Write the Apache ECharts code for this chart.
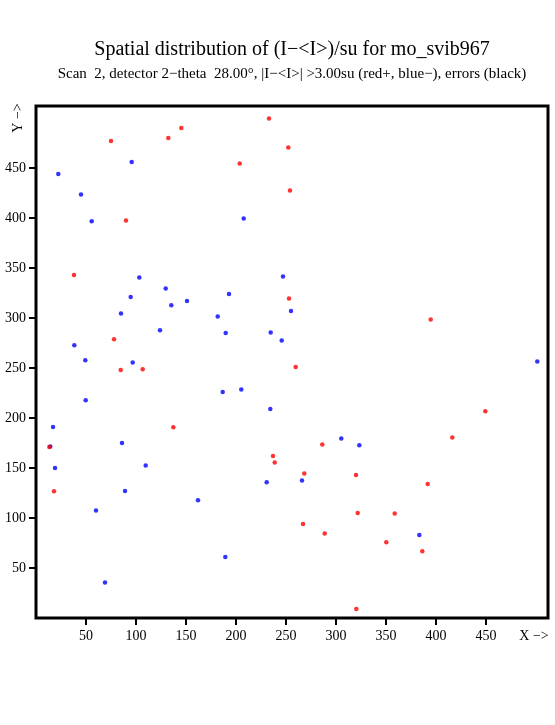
<!DOCTYPE html>
<html>
<head>
<meta charset="utf-8">
<script src="https://cdn.jsdelivr.net/npm/echarts@6/dist/echarts.min.js"></script>
<style>
html,body{margin:0;padding:0;background:#fff;}
#chart{width:555px;height:725px;}
</style>
</head>
<body>
<div id="chart"></div>
<script>
var titleText = "Spatial distribution of (I\u2212<I>)/su for mo_svib967";
var subtitleText = "Scan  2, detector 2\u2212theta  28.00\u00b0, |I\u2212<I>| >3.00su (red+, blue\u2212), errors (black)";
var xTicks = [50,100,150,200,250,300,350,400,450];
var yTicks = [50,100,150,200,250,300,350,400,450];

var redX = [75,90,132.3,145.3,38,78,84.7,106.7,137.3,13.3,18,233,252.3,203.7,254,253,259.7,286.3,237,238.7,268.3,320,321.7,267,288.7,320.3,394.7,449.3,416.3,391.7,358.7,350.3,386.3];
var redY = [477,397.4,480,490,343,278.7,248,248.7,190.7,171,126.7,499.4,470.4,454.4,427.4,319.4,251,173.4,162,155.4,144.4,143,105,94,84.4,9,298.4,206.7,180.4,134,104.4,75.7,66.7];

var blueX = [22.3,45,55.7,95.7,103.3,129.7,94.7,85,135.3,151,124,38.3,49.3,96.7,49.7,17,86,19,109.7,89,60,162,14.3,69,207.7,247,193,255,181.7,189.7,234.7,245.7,186.7,205.3,234.3,305.3,323.3,230.7,266,189.3,501.3,383.3];
var blueY = [444,423.4,396.7,456,340.4,329.4,321,304.4,312.7,317,287.7,272.7,257.7,255.4,217.7,191,175,150,152.4,127,107.4,117.7,171.5,35.4,399.4,341.4,324,307,301.4,285,285.4,277.4,226,228.4,209,179.4,172.7,135.7,137.4,61,256.4,83];

function pairs(xs, ys){ return xs.map(function(x,i){ return [x, ys[i]]; }); }

var FONT = "Liberation Serif";
var chart = echarts.init(document.getElementById('chart'), null, {renderer:'canvas'});
chart.setOption({
  animation:false,
  backgroundColor:'#fff',
  grid:{left:36,right:7,top:106,bottom:107,show:true,borderColor:'#000',borderWidth:3,backgroundColor:'transparent'},
  xAxis:{type:'value',min:0,max:512,
    axisLine:{show:false},
    splitLine:{show:false},
    axisTick:{show:true,inside:false,length:7,customValues:xTicks,lineStyle:{color:'#000',width:2}},
    axisLabel:{show:true,customValues:xTicks,margin:11,color:'#000',fontFamily:FONT,fontSize:14}
  },
  yAxis:{type:'value',min:0,max:512,
    axisLine:{show:false},
    splitLine:{show:false},
    axisTick:{show:true,inside:false,length:7,customValues:yTicks,lineStyle:{color:'#000',width:2}},
    axisLabel:{show:true,customValues:yTicks,margin:10,color:'#000',fontFamily:FONT,fontSize:14}
  },
  series:[
    {type:'scatter',data:pairs(blueX,blueY),symbol:'circle',symbolSize:4.5,itemStyle:{color:'#0000ff'},silent:true},
    {type:'scatter',data:pairs(redX,redY),symbol:'circle',symbolSize:4.5,itemStyle:{color:'#ff0000'},silent:true}
  ],
  graphic:[
    {type:'text',x:292,y:50,style:{text:titleText,font:'20px "'+FONT+'"',fill:'#000',textAlign:'center',textVerticalAlign:'middle'}},
    {type:'text',x:292,y:74,style:{text:subtitleText,font:'15px "'+FONT+'"',fill:'#000',textAlign:'center',textVerticalAlign:'middle'}},
    {type:'text',x:18,y:118,rotation:Math.PI/2,style:{text:'Y \u2212>',font:'14px "'+FONT+'"',fill:'#000',textAlign:'center',textVerticalAlign:'middle'}},
    {type:'text',x:534,y:636,style:{text:'X \u2212>',font:'14px "'+FONT+'"',fill:'#000',textAlign:'center',textVerticalAlign:'middle'}}
  ]
});
</script>
</body>
</html>
